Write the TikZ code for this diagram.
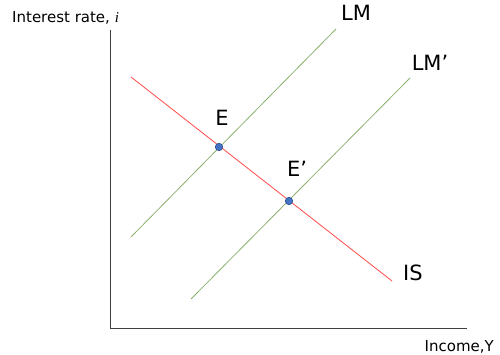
\documentclass[tikz,border=0pt]{standalone}
\usepackage{fontspec}
\setmainfont{DejaVu Sans}
\newfontfamily\varfont{Liberation Serif}
\usepackage{tikz}
\usetikzlibrary{positioning}
\definecolor{axisgray}{HTML}{404040}
\definecolor{lmgreen}{HTML}{8CB06E}
\definecolor{isred}{HTML}{FF4B4B}
\definecolor{dotblue}{HTML}{4472C4}
\definecolor{dotedge}{HTML}{2F528F}

\begin{document}
\begin{tikzpicture}[x=1pt,y=-1pt, every node/.style={font=\fontsize{15}{17}\selectfont}]
\tikzstyle{curve}=[line width=0.8pt]
\tikzstyle{eqdot}=[circle,fill=dotblue,draw=dotedge,line width=0.6pt,inner sep=0pt,minimum size=7.5pt]
\tikzstyle{biglabel}=[font=\fontsize{21}{24}\selectfont]
\useasboundingbox (0,0) rectangle (500,355);
% axes
\coordinate (top) at (110,30);
\coordinate (origin) at (110,328);
\coordinate (right) at (467,328);
\draw[axisgray,line width=0.9pt] (top)--(origin)--(right);
\node[anchor=west,inner sep=0pt] (ylab) at (12,18) {Interest rate, {\varfont\itshape i}};
\node[anchor=east,inner sep=0pt] (xlab) at (494,347) {Income,Y};
% curves
\coordinate (lmA) at (131,237);
\coordinate (lmB) at (336,29);
\coordinate (lmpA) at (191,299);
\coordinate (lmpB) at (410,78);
\coordinate (isA) at (131,77);
\coordinate (isB) at (392,281);
\draw[curve,lmgreen] (lmA)--(lmB);
\draw[curve,lmgreen] (lmpA)--(lmpB);
\draw[curve,isred] (isA)--(isB);
\node[biglabel] (lm) at (356,13) {LM};
\node[biglabel] (lmp) at (430,63) {LM’};
\node[biglabel] (is) at (413,273) {IS};
% equilibria
\node[eqdot] (e) at (219,147) {};
\node[eqdot] (ep) at (289,201) {};
\node[biglabel] (elab) at (222,118) {E};
\node[biglabel] (eplab) at (297,169) {E’};
\end{tikzpicture}
\end{document}
